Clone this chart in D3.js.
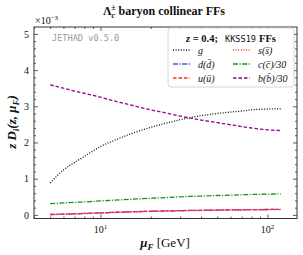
<!DOCTYPE html>
<html>
<head>
<meta charset="utf-8">
<script src="https://cdn.jsdelivr.net/npm/d3@7"></script>
<style>
  body { margin: 0; background: #fff; }
  svg { display: block; }
</style>
</head>
<body>
<div id="chart"></div>
<script>
// Data (values in units of 1e-3)
const muF = [5, 6, 7, 8, 10, 12, 15, 20, 25, 30, 40, 50, 60, 70, 80, 100, 120];
const gluon = [0.88, 1.24, 1.45, 1.61, 1.89, 2.05, 2.23, 2.42, 2.54, 2.63, 2.74, 2.80, 2.84, 2.87, 2.90, 2.925, 2.93];
const dQuark = [0.01, 0.02, 0.03, 0.04, 0.055, 0.07, 0.085, 0.10, 0.11, 0.118, 0.127, 0.133, 0.138, 0.142, 0.145, 0.149, 0.152];
const uQuark = [0.01, 0.02, 0.03, 0.04, 0.055, 0.07, 0.085, 0.10, 0.11, 0.118, 0.127, 0.133, 0.138, 0.142, 0.145, 0.149, 0.152];
const sQuark = [0.005, 0.015, 0.025, 0.035, 0.05, 0.064, 0.078, 0.093, 0.103, 0.11, 0.12, 0.126, 0.131, 0.135, 0.138, 0.142, 0.145];
const cQuark30 = [0.31, 0.33, 0.345, 0.357, 0.385, 0.405, 0.43, 0.46, 0.48, 0.50, 0.52, 0.535, 0.545, 0.555, 0.563, 0.573, 0.58];
const bQuark30 = [3.59, 3.50, 3.42, 3.36, 3.25, 3.15, 3.04, 2.90, 2.81, 2.73, 2.62, 2.55, 2.49, 2.44, 2.40, 2.35, 2.33];

const yTicks = [0, 1, 2, 3, 4, 5];
const xMajor = [10, 100];
const xMinor = [4, 5, 6, 7, 8, 9, 20, 30, 40, 50, 60, 70, 80, 90];

const series = [
  { name: "g", values: gluon, color: "#111", dash: "1,1.6" },
  { name: "d(d\u0304)", values: dQuark, color: "#4a4aff", dash: "5,1.5,1.2,1.5" },
  { name: "u(\u016B)", values: uQuark, color: "#ff2a2a", dash: "3.5,2" },
  { name: "s(s\u0304)", values: sQuark, color: "#ff2a2a", dash: "1,1.6" },
  { name: "c(c\u0304)/30", values: cQuark30, color: "#149414", dash: "5,1.5,1.2,1.5" },
  { name: "b(b\u0304)/30", values: bQuark30, color: "#990099", dash: "3.5,2" },
];

const WIDTH = 303;
const HEIGHT = 255;
const margin = { top: 27, right: 6, bottom: 36.5, left: 34 };
const plotW = WIDTH - margin.left - margin.right;
const plotH = HEIGHT - margin.top - margin.bottom;

const serif = "'Liberation Serif', 'DejaVu Serif', serif";
const mono = "'DejaVu Sans Mono', 'Liberation Mono', monospace";

const x = d3.scaleLog().domain([4, 150]).range([0, plotW]);
const y = d3.scaleLinear().domain([-0.1, 5.19]).range([plotH, 0]);

const svg = d3
  .select("#chart")
  .append("svg")
  .attr("width", WIDTH)
  .attr("height", HEIGHT)
  .style("font-family", serif);

const g = svg
  .append("g")
  .attr("transform", "translate(" + margin.left + "," + margin.top + ")");

// Axes, ticks pointing inward on all four sides
function styleAxis(sel) {
  sel.select(".domain").remove();
  sel.selectAll("line").attr("stroke", "#333").attr("stroke-width", 0.8);
  sel.selectAll("text").attr("font-family", serif).attr("font-size", 10).attr("fill", "#111");
}

g.append("g")
  .attr("transform", "translate(0," + plotH + ")")
  .call(d3.axisBottom(x).tickValues(xMajor).tickSize(-4).tickFormat(""))
  .call(styleAxis);
g.append("g")
  .attr("transform", "translate(0," + plotH + ")")
  .call(d3.axisBottom(x).tickValues(xMinor).tickSize(-2).tickFormat(""))
  .call(styleAxis);
g.append("g")
  .call(d3.axisTop(x).tickValues(xMajor).tickSize(-4).tickFormat(""))
  .call(styleAxis);
g.append("g")
  .call(d3.axisTop(x).tickValues(xMinor).tickSize(-2).tickFormat(""))
  .call(styleAxis);

const yMinor = d3.range(-0.0, 5.2, 0.2).filter((v) => Math.abs(v - Math.round(v)) > 0.01);
g.append("g")
  .call(d3.axisLeft(y).tickValues(yTicks).tickSize(-4).tickPadding(5).tickFormat(d3.format("d")))
  .call(styleAxis);
g.append("g")
  .call(d3.axisLeft(y).tickValues(yMinor).tickSize(-2).tickFormat(""))
  .call(styleAxis);
g.append("g")
  .attr("transform", "translate(" + plotW + ",0)")
  .call(d3.axisRight(y).tickValues(yTicks).tickSize(-4).tickFormat(""))
  .call(styleAxis);
g.append("g")
  .attr("transform", "translate(" + plotW + ",0)")
  .call(d3.axisRight(y).tickValues(yMinor).tickSize(-2).tickFormat(""))
  .call(styleAxis);

// x tick labels 10^1, 10^2
xMajor.forEach((v, i) => {
  const t = g
    .append("text")
    .attr("x", x(v))
    .attr("y", plotH + 14)
    .attr("text-anchor", "middle")
    .attr("font-size", 10)
    .attr("fill", "#111");
  t.append("tspan").text("10");
  t.append("tspan").attr("dy", -4).attr("font-size", 7).text(String(i + 1));
});

// Frame
g.append("rect")
  .attr("width", plotW)
  .attr("height", plotH)
  .attr("fill", "none")
  .attr("stroke", "#333")
  .attr("stroke-width", 1);

// Curves
const clip = g.append("clipPath").attr("id", "clip");
clip.append("rect").attr("width", plotW).attr("height", plotH);

const line = d3
  .line()
  .x((d) => x(d[0]))
  .y((d) => y(d[1]))
  .curve(d3.curveMonotoneX);

g.append("g")
  .attr("clip-path", "url(#clip)")
  .selectAll("path")
  .data(series)
  .enter()
  .append("path")
  .attr("d", (s) => line(muF.map((m, i) => [m, s.values[i]])))
  .attr("fill", "none")
  .attr("stroke", (s) => s.color)
  .attr("stroke-width", 1.3)
  .attr("stroke-dasharray", (s) => s.dash);

// JETHAD tag
g.append("text")
  .attr("x", 18)
  .attr("y", 14)
  .attr("font-family", mono)
  .attr("font-size", 8.6)
  .attr("fill", "#999")
  .text("JETHAD v0.5.0");

// Legend
const legend = svg.append("g").attr("transform", "translate(168,28)");
legend
  .append("rect")
  .attr("width", 126)
  .attr("height", 59)
  .attr("rx", 3)
  .attr("fill", "#fff")
  .attr("stroke", "#ccc")
  .attr("stroke-width", 0.8);

const lt = legend
  .append("text")
  .attr("x", 63)
  .attr("y", 14)
  .attr("text-anchor", "middle")
  .attr("font-size", 10.5)
  .attr("font-weight", "bold")
  .attr("fill", "#111");
lt.append("tspan").attr("font-style", "italic").text("z");
lt.append("tspan").text(" = 0.4;");
lt.append("tspan").attr("dx", 7).attr("font-family", mono).attr("font-weight", "normal").attr("font-size", 8.6).text("KKSS19");
lt.append("tspan").attr("dx", 3).text("FFs");

series.forEach((s, i) => {
  const col = Math.floor(i / 3);
  const row = i % 3;
  const item = legend
    .append("g")
    .attr("transform", "translate(" + (5 + col * 60) + "," + (22 + row * 14) + ")");
  item
    .append("line")
    .attr("x1", 0)
    .attr("x2", 17)
    .attr("stroke", s.color)
    .attr("stroke-width", 1.3)
    .attr("stroke-dasharray", s.dash);
  item
    .append("text")
    .attr("x", 25)
    .attr("y", 3.5)
    .attr("font-size", 10)
    .attr("font-style", "italic")
    .attr("fill", "#111")
    .text(s.name);
});

// Title and labels
const title = svg
  .append("text")
  .attr("x", 164)
  .attr("y", 15)
  .attr("text-anchor", "middle")
  .attr("font-size", 12)
  .attr("font-weight", "bold")
  .attr("fill", "#111");
title.append("tspan").text("\u039B");
title.append("tspan").attr("font-size", 8).attr("dy", 3).attr("font-style", "italic").text("c");
title.append("tspan").attr("font-size", 8).attr("dy", -8).attr("dx", -4).text("\u00B1");
title.append("tspan").attr("dy", 5).text(" baryon collinear FFs");

const scale = svg
  .append("text")
  .attr("x", 35)
  .attr("y", 24)
  .attr("font-size", 10)
  .attr("fill", "#111");
scale.append("tspan").text("\u00D710");
scale.append("tspan").attr("dy", -4).attr("font-size", 7).text("\u22123");

const xl = svg
  .append("text")
  .attr("x", 165)
  .attr("y", 247)
  .attr("text-anchor", "middle")
  .attr("font-size", 13)
  .attr("fill", "#111");
xl.append("tspan").attr("font-style", "italic").attr("font-weight", "bold").text("\u03BC");
xl.append("tspan").attr("font-size", 9).attr("dy", 3).attr("font-style", "italic").attr("font-weight", "bold").text("F");
xl.append("tspan").attr("dy", -3).text(" [GeV]");

const yl = svg
  .append("text")
  .attr("transform", "translate(16,122) rotate(-90)")
  .attr("text-anchor", "middle")
  .attr("font-size", 13)
  .attr("font-style", "italic")
  .attr("font-weight", "bold")
  .attr("fill", "#111");
yl.append("tspan").text("z D");
yl.append("tspan").attr("font-size", 9).attr("dy", 3).text("i");
yl.append("tspan").attr("dy", -3).text("(z, \u03BC");
yl.append("tspan").attr("font-size", 9).attr("dy", 3).text("F");
yl.append("tspan").attr("dy", -3).text(")");
</script>
</body>
</html>
